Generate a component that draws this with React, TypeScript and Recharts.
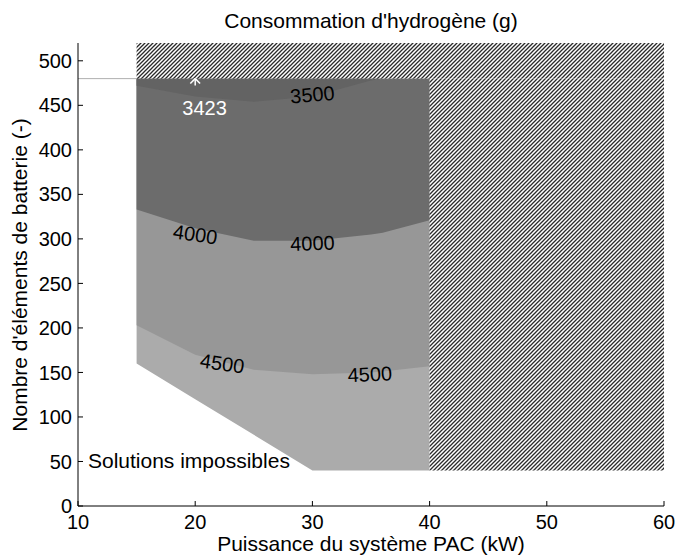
import { ComposedChart, Area, XAxis, YAxis, ReferenceArea, ReferenceLine, Scatter } from "recharts";

// Iso-consumption contours (battery count vs fuel-cell power)
const puissance = [15, 20, 25, 30, 35, 36, 40];
const borneBasse = [160, 120, 80, 40, 40, 40, 40];
const iso4500 = [203, 170, 153, 148, 150, 151, 157];
const iso4000 = [333, 312, 298, 298, 305, 307, 321];
const iso3500 = [472, 460, 454, 460, 478, 480, null];
const nbMax = 480;

const xTicks = [10, 20, 30, 40, 50, 60];
const yTicks = [0, 50, 100, 150, 200, 250, 300, 350, 400, 450, 500];

const optimum = [{ x: 20, y: 480 }];

const etiquettes = [
    { x: 20.8, y: 447, texte: "3423" },
    { x: 30, y: 462, texte: "3500" },
    { x: 20, y: 305, texte: "4000" },
    { x: 30, y: 295, texte: "4000" },
    { x: 22.3, y: 160, texte: "4500" },
    { x: 34.9, y: 148, texte: "4500" },
];
const angles = [0, -5, 8, -2, 8, -3];

const data = puissance.map((x, i) => ({
    x,
    bas: borneBasse[i],
    i4500: iso4500[i],
    i4000: iso4000[i],
    i3500: iso3500[i],
}));

const police = "'Liberation Sans', Arial, Helvetica, sans-serif";

// only the lower half of the '*' marker shows, the hatch hides the rest
function Asterisque(props: any) {
    const { cx, cy } = props;
    const r = 7;
    const d = r * 0.7;
    return (
        <g stroke="#fff" strokeWidth={1.5}>
            <line x1={cx} y1={cy} x2={cx} y2={cy + r} />
            <line x1={cx - d} y1={cy + d} x2={cx} y2={cy} />
            <line x1={cx + d} y1={cy + d} x2={cx} y2={cy} />
        </g>
    );
}

function Etiquette(props: any) {
    const { cx, cy, payload, index } = props;
    const blanc = payload.texte === "3423";
    return (
        <text
            x={cx}
            y={cy}
            textAnchor="middle"
            dominantBaseline="central"
            fontSize={20}
            fontFamily={police}
            fill={blanc ? "#fff" : "#000"}
            transform={`rotate(${angles[index] ?? 0} ${cx} ${cy})`}
        >
            {payload.texte}
        </text>
    );
}

function TexteImpossible(props: any) {
    const { cx, cy } = props;
    return (
        <text x={cx} y={cy} dominantBaseline="central" fontSize={21} fontFamily={police} fill="#000">
            Solutions impossibles
        </text>
    );
}

const axe = { stroke: "#000", tick: { fill: "#000", fontSize: 20 }, tickSize: -5 };

export default function App() {
    return (
        <div style={{ position: "absolute", left: 0, top: 0, width: 677, height: 556, background: "#fff", fontFamily: police }}>
            <svg width={0} height={0} style={{ position: "absolute" }}>
                <defs>
                    <pattern id="hachures" patternUnits="userSpaceOnUse" width={4} height={4}>
                        <rect width={4} height={4} fill="#fff" />
                        <path d="M0,4 L4,0 M-1,1 L1,-1 M3,5 L5,3" stroke="#2a2a2a" strokeWidth={1.3} />
                    </pattern>
                </defs>
            </svg>
            <ComposedChart width={677} height={556} data={data} margin={{ top: 43, right: 13, bottom: 20, left: 33 }}>
                <XAxis dataKey="x" type="number" domain={[10, 60]} ticks={xTicks} interval={0} height={30} tickMargin={14} {...axe} />
                <XAxis xAxisId="haut" orientation="top" type="number" domain={[10, 60]} ticks={xTicks} interval={0} height={0} tickFormatter={() => ""} {...axe} />
                <YAxis type="number" domain={[0, 520]} ticks={yTicks} interval={0} width={45} tickMargin={11} {...axe} />
                <YAxis yAxisId="droite" orientation="right" type="number" domain={[0, 520]} ticks={yTicks} interval={0} width={0} tickFormatter={() => ""} {...axe} />

                <Area type="linear" dataKey={(d: any) => [d.bas, nbMax]} stroke="none" fill="#ababab" fillOpacity={1} isAnimationActive={false} activeDot={false} />
                <Area type="linear" dataKey={(d: any) => [d.i4500, nbMax]} stroke="none" fill="#979797" fillOpacity={1} isAnimationActive={false} activeDot={false} />
                <Area type="linear" dataKey={(d: any) => [d.i4000, nbMax]} stroke="none" fill="#6c6c6c" fillOpacity={1} isAnimationActive={false} activeDot={false} />
                <Area type="linear" dataKey={(d: any) => (d.i3500 == null ? null : [d.i3500, nbMax])} stroke="none" fill="#636363" fillOpacity={1} isAnimationActive={false} activeDot={false} />

                <ReferenceLine segment={[{ x: 10, y: nbMax }, { x: 15, y: nbMax }]} stroke="#b0b0b0" strokeWidth={1} />

                <ReferenceArea x1={15} x2={60} y1={nbMax} y2={520} fill="url(#hachures)" fillOpacity={1} stroke="none" />
                <ReferenceArea x1={40} x2={60} y1={40} y2={nbMax} fill="url(#hachures)" fillOpacity={1} stroke="none" />
                <Scatter data={optimum} dataKey="y" shape={Asterisque} isAnimationActive={false} />

                <Scatter data={etiquettes} dataKey="y" shape={Etiquette} isAnimationActive={false} />
                <Scatter data={[{ x: 10.85, y: 51 }]} dataKey="y" shape={TexteImpossible} isAnimationActive={false} />
            </ComposedChart>
            <svg width={677} height={556} style={{ position: "absolute", left: 0, top: 0, pointerEvents: "none" }} fontFamily={police} fontSize={21}>
                <text x={371} y={28} textAnchor="middle">Consommation d'hydrogène (g)</text>
                <text x={371} y={551} textAnchor="middle">Puissance du système PAC (kW)</text>
                <text x={27} y={275} textAnchor="middle" transform="rotate(-90 27 275)">Nombre d'éléments de batterie (-)</text>
            </svg>
        </div>
    );
}
